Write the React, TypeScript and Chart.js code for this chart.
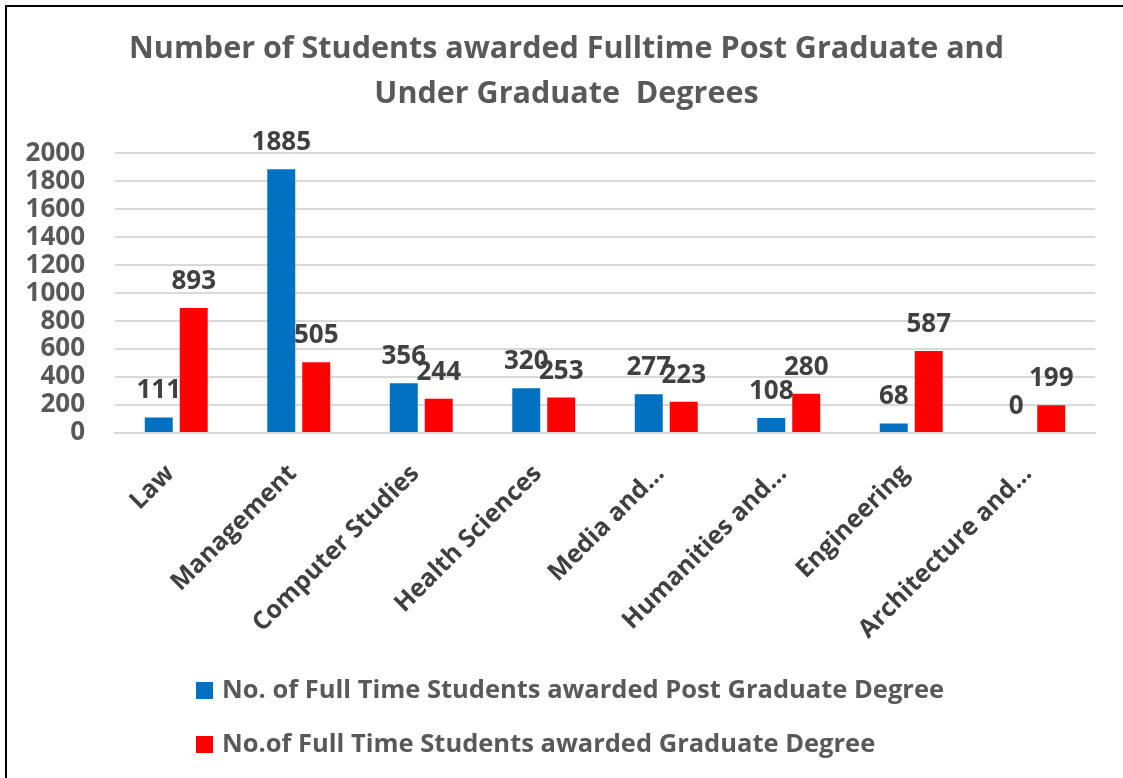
import React, { useEffect, useRef } from "react";
import { Chart, registerables } from "chart.js";

Chart.register(...registerables);

const categories = [
  "Law",
  "Management",
  "Computer Studies",
  "Health Sciences",
  "Media and…",
  "Humanities and…",
  "Engineering",
  "Architecture and…",
];
const postGraduate = [111, 1885, 356, 320, 277, 108, 68, 0];
const graduate = [893, 505, 244, 253, 223, 280, 587, 199];
const seriesNames = [
  "No. of Full Time Students awarded Post Graduate Degree",
  "No.of Full Time Students awarded Graduate Degree",
];
const seriesColors = ["#0070C0", "#FF0000"];
const titleLines = [
  "Number of Students awarded Fulltime Post Graduate and",
  "Under Graduate  Degrees",
];
const yMin = 0;
const yMax = 2000;
const yStep = 200;

const FONT = "'Open Sans', sans-serif";

const framePlugin = {
  id: "frame",
  beforeDraw(chart: any) {
    const ctx = chart.ctx;
    ctx.save();
    ctx.fillStyle = "#ffffff";
    ctx.fillRect(0, 0, chart.width, chart.height);
    ctx.restore();
  },
  afterLayout(chart: any) {
    const t = chart.titleBlock;
    if (t) {
      t.left = 38;
    }
  },
  afterDraw(chart: any) {
    const ctx = chart.ctx;
    ctx.save();
    ctx.strokeStyle = "#000000";
    ctx.lineWidth = 2;
    ctx.beginPath();
    ctx.moveTo(6, chart.height);
    ctx.lineTo(6, 6);
    ctx.lineTo(chart.width, 6);
    ctx.stroke();
    ctx.restore();
  },
};

const valueLabelPlugin = {
  id: "valueLabels",
  afterDatasetsDraw(chart: any) {
    const ctx = chart.ctx;
    ctx.save();
    ctx.font = `bold 26px ${FONT}`;
    ctx.fillStyle = "#404040";
    ctx.textAlign = "center";
    ctx.textBaseline = "alphabetic";
    chart.data.datasets.forEach((ds: any, i: number) => {
      const meta = chart.getDatasetMeta(i);
      meta.data.forEach((bar: any, j: number) => {
        ctx.fillText(String(ds.data[j]), bar.x, bar.y - 19);
      });
    });
    ctx.restore();
  },
};

const legendPlugin = {
  id: "customLegend",
  afterDraw(chart: any) {
    const ctx = chart.ctx;
    ctx.save();
    ctx.font = `bold 25.5px ${FONT}`;
    ctx.textAlign = "left";
    ctx.textBaseline = "alphabetic";
    chart.data.datasets.forEach((ds: any, i: number) => {
      const rowTop = 682 + i * 54;
      ctx.fillStyle = ds.backgroundColor;
      ctx.fillRect(196, rowTop, 17, 17);
      ctx.fillStyle = "#595959";
      ctx.fillText(ds.label, 222, rowTop + 16);
    });
    ctx.restore();
  },
};

export default function App() {
  const ref = useRef<HTMLCanvasElement | null>(null);

  useEffect(() => {
    if (!ref.current) return;
    const chart = new Chart(ref.current, {
      type: "bar",
      data: {
        labels: categories,
        datasets: [
          {
            label: seriesNames[0],
            data: postGraduate,
            backgroundColor: seriesColors[0],
            categoryPercentage: 0.571,
            barPercentage: 0.8,
          },
          {
            label: seriesNames[1],
            data: graduate,
            backgroundColor: seriesColors[1],
            categoryPercentage: 0.571,
            barPercentage: 0.8,
          },
        ],
      },
      options: {
        responsive: false,
        animation: false,
        devicePixelRatio: 1,
        layout: { padding: { left: 8, right: 28, top: 0, bottom: 0 } },
        plugins: {
          legend: { display: false },
          tooltip: { enabled: false },
          title: {
            display: true,
            text: titleLines,
            color: "#595959",
            font: { family: FONT, size: 30.5, weight: "bold", lineHeight: 1.48 },
            padding: { top: 27, bottom: 36 },
          },
        },
        scales: {
          x: {
            grid: { display: false, drawTicks: false },
            border: { display: true, color: "#d9d9d9", width: 2 },
            ticks: {
              color: "#404040",
              font: { family: FONT, size: 25, weight: "bold" },
              minRotation: 45,
              maxRotation: 45,
              autoSkip: false,
              padding: 26,
              labelOffset: -6,
            },
            afterFit(scale: any) {
              scale.height = 345;
            },
          },
          y: {
            min: yMin,
            max: yMax,
            grid: { color: "#d9d9d9", lineWidth: 2, drawTicks: false },
            border: { display: false },
            ticks: {
              stepSize: yStep,
              autoSkip: false,
              color: "#595959",
              font: { family: FONT, size: 26, weight: "bold" },
              padding: 30,
              callback: (v: any) => String(v),
            },
            afterFit(scale: any) {
              scale.width = 107;
            },
          },
        },
      },
      plugins: [framePlugin, valueLabelPlugin, legendPlugin],
    });
    return () => chart.destroy();
  }, []);

  return (
    <div style={{ position: "fixed", left: 0, top: 0, width: 1123, height: 778, background: "#fff" }}>
      <canvas ref={ref} width={1123} height={778} style={{ display: "block" }} />
    </div>
  );
}
